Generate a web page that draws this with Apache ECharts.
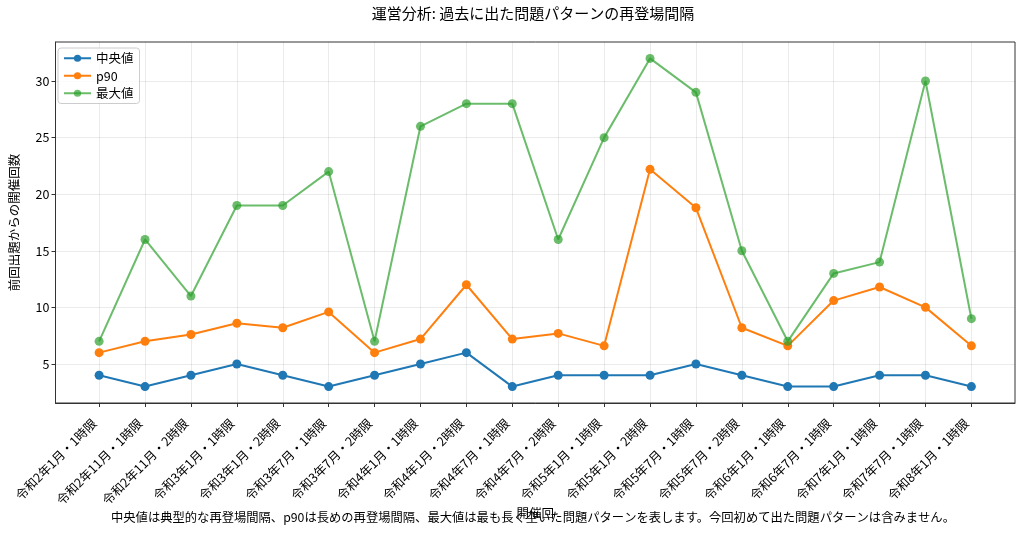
<!DOCTYPE html>
<html>
<head>
<meta charset="utf-8">
<script src="https://cdn.jsdelivr.net/npm/echarts@6/dist/echarts.min.js"></script>
<style>
  html, body { margin: 0; padding: 0; background: #fff; }
  #main { width: 1024px; height: 533px; }
</style>
</head>
<body>
<div id="main"></div>
<script>
var categories = [
    '令和2年1月・1時限', '令和2年11月・1時限', '令和2年11月・2時限', '令和3年1月・1時限',
    '令和3年1月・2時限', '令和3年7月・1時限', '令和3年7月・2時限', '令和4年1月・1時限',
    '令和4年1月・2時限', '令和4年7月・1時限', '令和4年7月・2時限', '令和5年1月・1時限',
    '令和5年1月・2時限', '令和5年7月・1時限', '令和5年7月・2時限', '令和6年1月・1時限',
    '令和6年7月・1時限', '令和7年1月・1時限', '令和7年7月・1時限', '令和8年1月・1時限'
];
var median = [4, 3, 4, 5, 4, 3, 4, 5, 6, 3, 4, 4, 4, 5, 4, 3, 3, 4, 4, 3];
var p90 = [6, 7, 7.6, 8.6, 8.2, 9.6, 6, 7.2, 12, 7.2, 7.7, 6.6, 22.2, 18.8, 8.2, 6.6, 10.6, 11.8, 10, 6.6];
var maxGap = [7, 16, 11, 19, 19, 22, 7, 26, 28, 28, 16, 25, 32, 29, 15, 7, 13, 14, 30, 9];
var yTicks = [5, 10, 15, 20, 25, 30];

var font = '"Noto Sans CJK JP", "DejaVu Sans", sans-serif';
var xTicks = categories.map(function (c, i) { return i; });

function pairs(arr) {
    return arr.map(function (v, i) { return [i, v]; });
}

function lineSeries(name, arr, color, alpha) {
    return {
        name: name,
        type: 'line',
        data: pairs(arr),
        symbol: 'circle',
        symbolSize: 9,
        showSymbol: true,
        lineStyle: { color: color, width: 2, opacity: alpha },
        itemStyle: { color: color, opacity: alpha },
        emphasis: { disabled: true }
    };
}

var myChart = echarts.init(document.getElementById('main'));
var option = {
    animation: false,
    textStyle: { fontFamily: font },
    title: {
        text: '運営分析: 過去に出た問題パターンの再登場間隔',
        left: 533,
        top: 6,
        padding: 0,
        textAlign: 'center',
        textStyle: { fontFamily: font, fontSize: 15, fontWeight: 'normal', color: '#000' }
    },
    legend: {
        orient: 'vertical',
        left: 58,
        top: 48,
        itemWidth: 27,
        itemHeight: 9,
        itemGap: 5,
        padding: [4, 6, 4, 5],
        borderColor: '#ccc',
        borderWidth: 1,
        borderRadius: 3,
        backgroundColor: 'rgba(255,255,255,0.8)',
        textStyle: { fontFamily: font, fontSize: 12.5, color: '#000' },
        data: ['中央値', 'p90', '最大値']
    },
    grid: {
        left: 51,
        right: 9,
        top: 42,
        bottom: 130,
        show: true,
        borderColor: '#333',
        borderWidth: 1,
        containLabel: false
    },
    xAxis: {
        type: 'value',
        min: -0.95,
        max: 19.95,
        name: '開催回',
        nameLocation: 'middle',
        nameGap: 104,
        nameMoveOverlap: false,
        nameTextStyle: { fontFamily: font, fontSize: 12.5, color: '#000' },
        axisLine: { show: true, onZero: false, lineStyle: { color: '#333' } },
        axisTick: { show: true, customValues: xTicks, length: 4, lineStyle: { color: '#333' } },
        axisLabel: {
            customValues: xTicks,
            rotate: 45,
            fontSize: 12.5,
            color: '#000',
            margin: 13,
            padding: [0, 7, 0, 0],
            formatter: function (v) { return categories[Math.round(v)] || ''; }
        },
        splitLine: { show: true, customValues: xTicks, lineStyle: { color: 'rgba(0,0,0,0.08)' } }
    },
    yAxis: {
        type: 'value',
        min: 1.55,
        max: 33.45,
        name: '前回出題からの開催回数',
        nameLocation: 'middle',
        nameGap: 35,
        nameTextStyle: { fontFamily: font, fontSize: 12.5, color: '#000' },
        axisLine: { show: true, onZero: false, lineStyle: { color: '#333' } },
        axisTick: { show: true, customValues: yTicks, length: 4, lineStyle: { color: '#333' } },
        axisLabel: { customValues: yTicks, fontSize: 12.5, color: '#000', margin: 6 },
        splitLine: { show: true, customValues: yTicks, lineStyle: { color: 'rgba(0,0,0,0.08)' } }
    },
    graphic: [{
        type: 'text',
        left: 111,
        top: 511,
        style: {
            text: '中央値は典型的な再登場間隔、p90は長めの再登場間隔、最大値は最も長く空いた問題パターンを表します。今回初めて出た問題パターンは含みません。',
            font: '12.3px ' + font,
            fill: '#000'
        }
    }],
    series: [
        lineSeries('中央値', median, '#1f77b4', 1),
        lineSeries('p90', p90, '#ff7f0e', 1),
        lineSeries('最大値', maxGap, '#2ca02c', 0.7)
    ]
};
myChart.setOption(option);
</script>
</body>
</html>
